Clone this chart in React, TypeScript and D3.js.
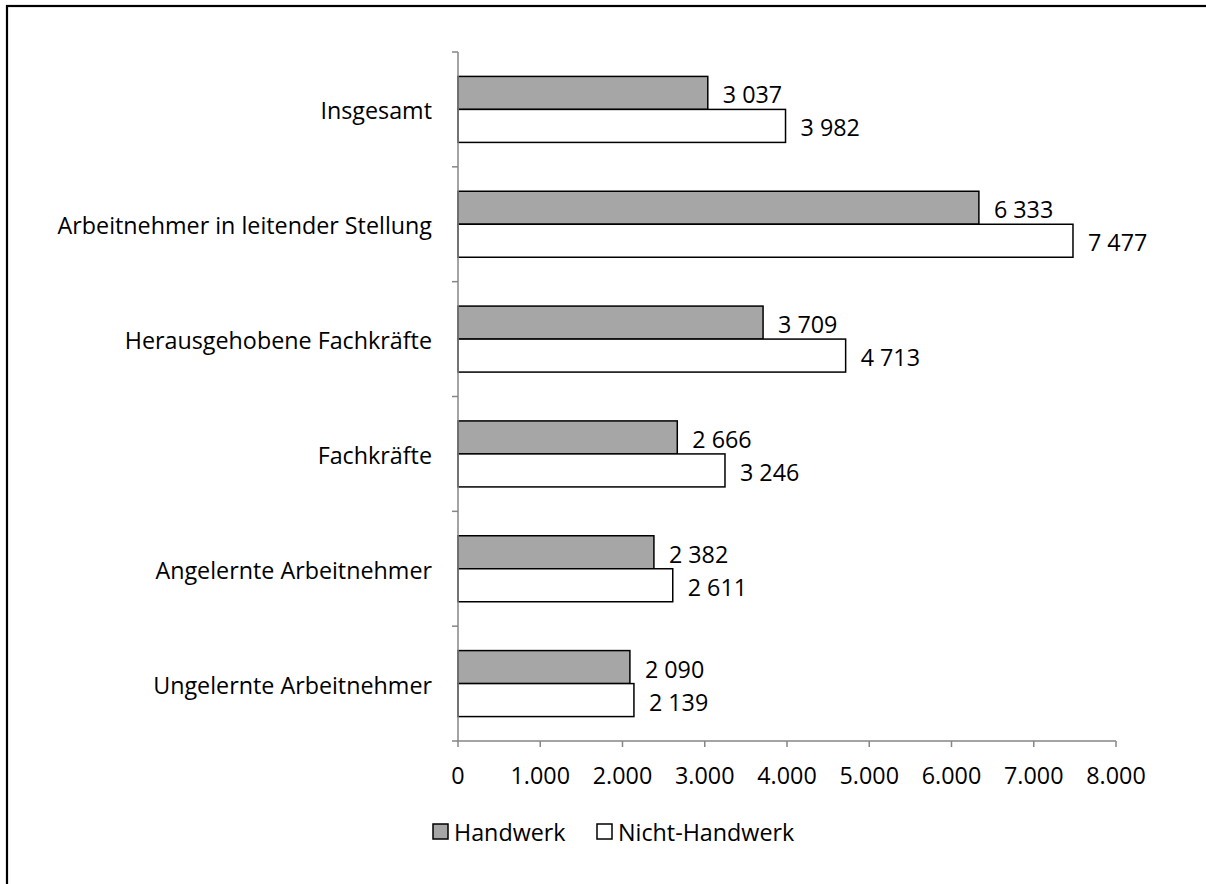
import React from "react";
import * as d3 from "d3";

const categories = [
  "Insgesamt",
  "Arbeitnehmer in leitender Stellung",
  "Herausgehobene Fachkräfte",
  "Fachkräfte",
  "Angelernte Arbeitnehmer",
  "Ungelernte Arbeitnehmer",
];
const handwerk = [3037, 6333, 3709, 2666, 2382, 2090];
const nichtHandwerk = [3982, 7477, 4713, 3246, 2611, 2139];
const xTicks = [0, 1000, 2000, 3000, 4000, 5000, 6000, 7000, 8000];
const seriesNames = ["Handwerk", "Nicht-Handwerk"];

const FONT = "'Open Sans', sans-serif";
const FS = 23.3;

const fmtLabel = (v: number) => d3.format(",")(v).replace(/,/g, " ");
const fmtTick = (v: number) => d3.format(",")(v).replace(/,/g, ".");

export default function App() {
  const W = 1206, H = 884;
  const x0 = 458, x1 = 1116;
  const yTop = 52, yBot = 741;
  const x = d3.scaleLinear().domain([0, 8000]).range([x0, x1]);
  const y = d3.scaleBand().domain(categories).range([yTop, yBot]).paddingInner(0).paddingOuter(0);
  const bw = y.bandwidth();
  const barH = 33;
  const axisColor = "#868686";
  const colors = ["#a6a6a6", "#ffffff"];
  const series = [handwerk, nichtHandwerk];

  return (
    <svg width={W} height={H} style={{ position: "absolute", left: 0, top: 0 }} fontFamily={FONT}>
      <rect x={0} y={0} width={W} height={H} fill="#fff" />
      <rect x={7} y={6} width={W + 20} height={H + 20} fill="none" stroke="#000" strokeWidth={2.2} />
      {categories.map((c, i) => {
        const cy = (y(c) as number) + bw / 2;
        return (
          <g key={c}>
            <text x={432} y={cy + 1} textAnchor="end" dominantBaseline="central" fontSize={FS} fill="#000">
              {c}
            </text>
            {series.map((s, k) => {
              const by = cy - barH + k * barH;
              return (
                <g key={k}>
                  <rect x={x(0)} y={by} width={x(s[i]) - x(0)} height={barH} fill={colors[k]} stroke="#000" strokeWidth={1.5} />
                  <text x={x(s[i]) + 15} y={by + barH / 2 + 1.5} dominantBaseline="central" fontSize={FS} fill="#000">
                    {fmtLabel(s[i])}
                  </text>
                </g>
              );
            })}
          </g>
        );
      })}
      {/* y axis */}
      <line x1={x0} x2={x0} y1={yTop} y2={yBot} stroke={axisColor} strokeWidth={1.5} />
      {d3.range(categories.length + 1).map((i) => {
        const ty = yTop + i * bw;
        return <line key={i} x1={x0 - 6} x2={x0} y1={ty} y2={ty} stroke={axisColor} strokeWidth={1.5} />;
      })}
      {/* x axis */}
      <line x1={x0} x2={x1} y1={yBot} y2={yBot} stroke={axisColor} strokeWidth={1.5} />
      {xTicks.map((t) => (
        <g key={t}>
          <line x1={x(t)} x2={x(t)} y1={yBot} y2={yBot + 6} stroke={axisColor} strokeWidth={1.5} />
          <text x={x(t)} y={yBot + 34} textAnchor="middle" dominantBaseline="central" fontSize={FS} fill="#000">
            {fmtTick(t)}
          </text>
        </g>
      ))}
      {/* legend */}
      {seriesNames.map((n, k) => {
        const lx = k === 0 ? 433 : 597;
        return (
          <g key={n}>
            <rect x={lx} y={824} width={15} height={15} fill={colors[k]} stroke="#000" strokeWidth={1.5} />
            <text x={lx + 21} y={832} dominantBaseline="central" fontSize={FS} fill="#000">
              {n}
            </text>
          </g>
        );
      })}
    </svg>
  );
}
